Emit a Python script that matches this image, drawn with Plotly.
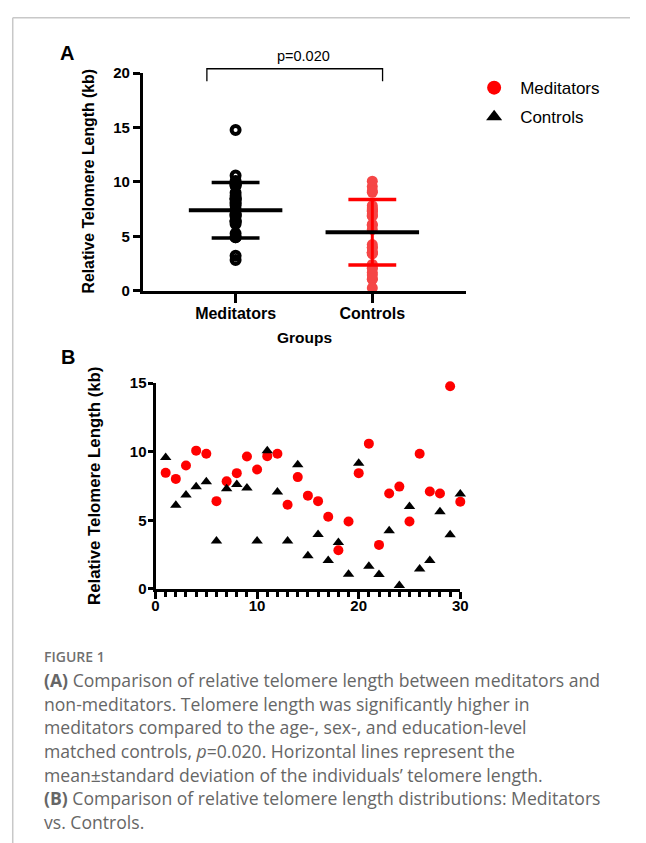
import plotly.graph_objects as go

# ---------------- data ----------------
groups = ["Meditators", "Controls"]
subjects = list(range(1, 31))
meditators = [8.46, 8.02, 9.0, 10.08, 9.86, 6.4, 7.84, 8.44, 9.65, 8.7,
              9.68, 9.86, 6.13, 8.15, 6.8, 6.4, 5.26, 2.82, 4.91, 8.44,
              10.59, 3.21, 6.95, 7.46, 4.91, 9.86, 7.1, 6.95, 14.78, 6.35]
controls = [9.58, 6.1, 6.85, 7.45, 7.81, 3.5, 7.31, 7.61, 7.36, 3.5,
            10.07, 7.06, 3.5, 9.05, 2.41, 3.96, 2.08, 3.39, 1.07, 9.17,
            1.66, 1.05, 4.24, 0.25, 6.01, 1.45, 2.07, 5.63, 3.95, 6.92]
group_means = [7.40, 5.38]
group_sds = [2.56, 3.01]
p_text = "p=0.020"
yticks_a = [0, 5, 10, 15, 20]
yticks_b = [0, 5, 10, 15]
xticks_b = [0, 10, 20, 30]

caption_title = "FIGURE 1"
caption_lines = [
    "<b>(A)</b> Comparison of relative telomere length between meditators and",
    "non-meditators. Telomere length was significantly higher in",
    "meditators compared to the age-, sex-, and education-level",
    "matched controls, <i>p</i>=0.020. Horizontal lines represent the",
    "mean\u00b1standard deviation of the individuals\u2019 telomere length.",
    "<b>(B)</b> Comparison of relative telomere length distributions: Meditators",
    "vs. Controls.",
]

# ---------------- layout helpers (target picture px -> paper) ----------------
OFFX, OFFY, SY = 8, 16.7, 0.981
FW, FH = 630, 843
def PX(t):
    return (t - OFFX) / FW
def PY(t):
    return 1 - ((t - OFFY) / SY) / FH

AX_FONT = "Liberation Sans, Arial, sans-serif"
A_XDOM = [PX(142), PX(470.5)]
A_YDOM = [PY(290.7), PY(73)]
A_XR = [-0.674, 1.683]
A_YR = [0, 20]
B_XDOM = [PX(154.3), PX(465)]
B_YDOM = [PY(589.3), PY(383.3)]

def a_to_paper_x(v):
    return A_XDOM[0] + (v - A_XR[0]) / (A_XR[1] - A_XR[0]) * (A_XDOM[1] - A_XDOM[0])

fig = go.Figure()

# ---------------- panel A ----------------
pos = list(range(len(groups)))
fig.add_trace(go.Scatter(
    x=[pos[0]] * len(meditators), y=meditators, mode="markers",
    marker=dict(symbol="circle-open", size=8, color="black", line=dict(width=4)),
    xaxis="x", yaxis="y", showlegend=False, cliponaxis=False, hoverinfo="y"))
fig.add_trace(go.Scatter(
    x=[pos[1]] * len(controls), y=controls, mode="markers",
    marker=dict(symbol="circle", size=11, color="#f54646", line=dict(width=0)),
    xaxis="x", yaxis="y", showlegend=False, cliponaxis=False, hoverinfo="y"))

sd_colors = ["black", "#ff0000"]
for i, (m, s) in enumerate(zip(group_means, group_sds)):
    fig.add_trace(go.Scatter(x=[pos[i], pos[i]], y=[m - s, m + s], mode="lines",
                             line=dict(color=sd_colors[i], width=3),
                             xaxis="x", yaxis="y", showlegend=False, hoverinfo="skip"))
    for v in (m - s, m + s):
        fig.add_trace(go.Scatter(x=[pos[i] - 0.175, pos[i] + 0.175], y=[v, v], mode="lines",
                                 line=dict(color=sd_colors[i], width=3.5),
                                 xaxis="x", yaxis="y", showlegend=False, hoverinfo="skip"))
    fig.add_trace(go.Scatter(x=[pos[i] - 0.342, pos[i] + 0.342], y=[m, m], mode="lines",
                             line=dict(color="black", width=4),
                             xaxis="x", yaxis="y", showlegend=False, hoverinfo="skip"))

# ---------------- panel B ----------------
fig.add_trace(go.Scatter(
    x=subjects, y=meditators, mode="markers",
    marker=dict(symbol="circle", size=10, color="#ff0000"),
    xaxis="x2", yaxis="y2", showlegend=False, cliponaxis=False))
fig.add_trace(go.Scatter(
    x=subjects, y=controls, mode="markers",
    marker=dict(symbol="triangle-up", size=10, color="black"),
    xaxis="x2", yaxis="y2", showlegend=False, cliponaxis=False))

# legend entries
fig.add_trace(go.Scatter(x=[None], y=[None], mode="markers", name=groups[0],
                         marker=dict(symbol="circle", size=14, color="#ff0000"),
                         xaxis="x2", yaxis="y2", legendgroup="m"))
fig.add_trace(go.Scatter(x=[None], y=[None], mode="markers", name=groups[1],
                         marker=dict(symbol="triangle-up", size=14, color="black"),
                         xaxis="x2", yaxis="y2", legendgroup="c"))

# ---------------- shapes (bracket, border) ----------------
bx0, bx1 = a_to_paper_x(pos[0] - 0.21), a_to_paper_x(pos[1] + 0.075)
by_top, by_bot = PY(68.5), PY(81)
top_border = 1 - 0.75 / FH
shapes = [
    dict(type="path", xref="paper", yref="paper",
         path=f"M {bx0} {by_bot} L {bx0} {by_top} L {bx1} {by_top} L {bx1} {by_bot}",
         line=dict(color="black", width=1.3)),
    dict(type="line", xref="paper", yref="paper", x0=0.75 / FW, x1=1, y0=top_border, y1=top_border,
         line=dict(color="#c8c8c8", width=1.5)),
    dict(type="line", xref="paper", yref="paper", x0=0.75 / FW, x1=0.75 / FW, y0=top_border, y1=0,
         line=dict(color="#c8c8c8", width=1.5)),
]

# ---------------- annotations ----------------
ann = [
    dict(text="<b>A</b>", x=PX(64), y=PY(53), font=dict(size=20, color="black", family=AX_FONT)),
    dict(text="<b>B</b>", x=PX(65), y=PY(357), font=dict(size=20, color="black", family=AX_FONT)),
    dict(text=p_text, x=a_to_paper_x(0.5), y=PY(56), font=dict(size=14.5, color="black", family=AX_FONT)),
    dict(text="<b>Relative Telomere Length (kb)</b>", x=PX(86), y=(A_YDOM[0] + A_YDOM[1]) / 2,
         textangle=-90, font=dict(size=15.8, color="black", family=AX_FONT)),
    dict(text="<b>Groups</b>", x=(A_XDOM[0] + A_XDOM[1]) / 2, y=PY(337.3),
         font=dict(size=15.5, color="black", family=AX_FONT)),
    dict(text="<b>Relative Telomere Length (kb)</b>", x=PX(91.5), y=(B_YDOM[0] + B_YDOM[1]) / 2,
         textangle=-90, font=dict(size=16.8, color="black", family=AX_FONT)),
    dict(text=caption_title, x=PX(39), y=PY(657), xanchor="left",
         font=dict(size=14, color="#707070", family="Open Sans", weight=600)),
]
for a in ann:
    a.setdefault("xanchor", "center")
    a.update(xref="paper", yref="paper", yanchor="middle", showarrow=False)

line_y0, line_dy = 680.5, 23.7
for k, t in enumerate(caption_lines):
    ann.append(dict(text=t, x=PX(39), y=PY(line_y0 + k * line_dy), xref="paper", yref="paper",
                    xanchor="left", yanchor="middle", showarrow=False,
                    font=dict(size=17.6, color="#666666", family="Open Sans")))

axis_common = dict(showgrid=False, zeroline=False, showline=True, linecolor="black",
                   linewidth=3, ticks="outside", tickcolor="black", tickwidth=3)
tick_bold = dict(family=AX_FONT, size=15, color="black", weight="bold")

fig.update_layout(
    width=FW, height=FH, margin=dict(l=0, r=0, t=0, b=0),
    paper_bgcolor="white", plot_bgcolor="white",
    xaxis=dict(domain=A_XDOM, range=A_XR, tickvals=pos, ticktext=groups, ticklen=9,
               anchor="y", tickfont=dict(family=AX_FONT, size=16, color="black", weight="bold"),
               ticklabelstandoff=-3, **axis_common),
    yaxis=dict(domain=A_YDOM, range=A_YR, tickvals=yticks_a, ticklen=7.5, anchor="x",
               ticklabelstandoff=0, tickfont=tick_bold, **axis_common),
    xaxis2=dict(domain=B_XDOM, range=[0, 30], tickvals=xticks_b, ticklen=7, anchor="y2",
                minor=dict(dtick=1, ticklen=5, tickwidth=2.5, tickcolor="black", ticks="outside"),
                ticklabelstandoff=-6, tickfont=tick_bold, **axis_common),
    yaxis2=dict(domain=B_YDOM, range=[0, 15], tickvals=yticks_b, ticklen=5, anchor="x2",
                ticklabelstandoff=-2, tickfont=tick_bold, **axis_common),
    shapes=shapes, annotations=ann,
    legend=dict(x=PX(473), y=1 - 54.2 / FH, xanchor="left", yanchor="top",
                font=dict(family=AX_FONT, size=17, color="black"),
                itemwidth=42, tracegroupgap=4, bgcolor="rgba(0,0,0,0)"),
)

fig.write_html("out.html")
